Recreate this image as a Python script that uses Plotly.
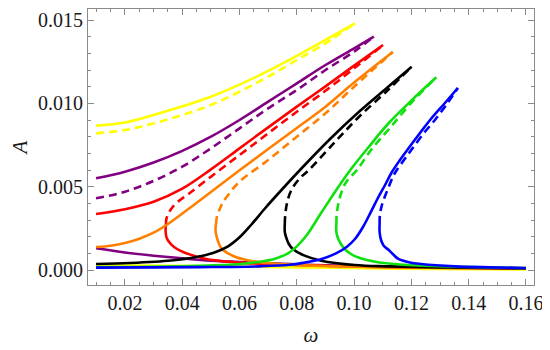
import plotly.graph_objects as go

# ---------------- data (omega, A) ----------------
yellow_upper = [(0.0099, 0.00866), (0.020, 0.00885), (0.030, 0.00930), (0.040, 0.00982), (0.050, 0.01040),
                (0.060, 0.01112), (0.070, 0.01195), (0.080, 0.01285), (0.090, 0.01380), (0.1003, 0.0148)]
yellow_dashed = [(0.0099, 0.0082), (0.020, 0.0084), (0.030, 0.0088), (0.040, 0.0093), (0.050, 0.0099),
                 (0.060, 0.0107), (0.070, 0.0116), (0.080, 0.0126), (0.090, 0.0136), (0.1003, 0.0148)]
yellow_lower = [(0.0099, 0.00028), (0.0462, 0.00024), (0.0811, 0.00016), (0.116, 0.00008), (0.160, 0.00003)]

purple_upper = [(0.0099, 0.0055), (0.020, 0.0059), (0.030, 0.00645), (0.040, 0.00715), (0.050, 0.0080),
                (0.060, 0.0090), (0.070, 0.0101), (0.080, 0.0112), (0.090, 0.0123), (0.100, 0.0133), (0.1069, 0.0140)]
purple_dashed = [(0.0099, 0.0043), (0.020, 0.0047), (0.030, 0.00535), (0.040, 0.0062), (0.050, 0.0073),
                 (0.060, 0.0085), (0.070, 0.0097), (0.080, 0.0108), (0.090, 0.0120), (0.100, 0.0131), (0.1069, 0.0140)]
purple_lower = [(0.0099, 0.0013), (0.020, 0.00105), (0.030, 0.00086), (0.040, 0.0007), (0.050, 0.00056),
                (0.060, 0.00047), (0.080, 0.00034), (0.100, 0.00024), (0.130, 0.00015), (0.160, 0.0001)]

red_upper = [(0.0099, 0.00336), (0.020, 0.00365), (0.030, 0.00410), (0.040, 0.00488), (0.050, 0.00604),
             (0.060, 0.00730), (0.070, 0.00856), (0.080, 0.00980), (0.090, 0.01102), (0.100, 0.01226), (0.1101, 0.0135)]
red_dashed = [(0.0343, 0.00276), (0.0345, 0.0031), (0.0352, 0.0034), (0.0365, 0.00375), (0.0385, 0.0041),
              (0.0423, 0.00458), (0.050, 0.0056), (0.060, 0.0069), (0.070, 0.0082), (0.080, 0.0095),
              (0.090, 0.01075), (0.100, 0.0121), (0.1101, 0.0135)]
red_lower = [(0.0343, 0.00276), (0.0342, 0.00228), (0.0346, 0.00190), (0.0361, 0.00154), (0.0382, 0.00126),
             (0.0409, 0.00104), (0.0479, 0.00068), (0.0584, 0.00046), (0.0741, 0.00033), (0.0985, 0.00021),
             (0.1334, 0.00012), (0.160, 0.00009)]

orange_upper = [(0.0099, 0.00138), (0.015, 0.00146), (0.020, 0.00162), (0.025, 0.00188), (0.030, 0.00224),
                (0.035, 0.00276), (0.042, 0.00364), (0.050, 0.00468), (0.060, 0.00598), (0.070, 0.00726),
                (0.080, 0.00852), (0.090, 0.00980), (0.100, 0.01125), (0.1135, 0.01308)]
orange_dashed = [(0.0518, 0.00276), (0.0520, 0.0031), (0.0527, 0.0035), (0.0540, 0.0040), (0.0560, 0.0045),
                 (0.060, 0.0053), (0.070, 0.0066), (0.080, 0.0080), (0.090, 0.0094), (0.100, 0.0110), (0.1135, 0.01308)]
orange_lower = [(0.0518, 0.00276), (0.0516, 0.0024), (0.0520, 0.0020), (0.0537, 0.0013), (0.0578, 0.00084),
                (0.0636, 0.00056), (0.0718, 0.00038), (0.090, 0.00024), (0.120, 0.00015), (0.160, 0.0001)]

black_upper = [(0.0099, 0.00036), (0.0217, 0.00042), (0.0361, 0.00057), (0.0450, 0.00078), (0.0510, 0.00104),
               (0.0560, 0.00142), (0.0600, 0.00196), (0.0640, 0.00270), (0.0690, 0.00372), (0.0740, 0.00468),
               (0.0811, 0.0060), (0.0916, 0.00786), (0.1020, 0.00954), (0.1118, 0.01098), (0.1201, 0.0122)]
black_dashed = [(0.0758, 0.00276), (0.0759, 0.00318), (0.0765, 0.00396), (0.0781, 0.0048), (0.0811, 0.00552),
                (0.0842, 0.0060), (0.0933, 0.00768), (0.1020, 0.00924), (0.1118, 0.0108), (0.1201, 0.0122)]
black_lower = [(0.0758, 0.00276), (0.0758, 0.00228), (0.0763, 0.00194), (0.0772, 0.00156), (0.0786, 0.00126),
               (0.0827, 0.00086), (0.0885, 0.00056), (0.1002, 0.0003), (0.1118, 0.00022), (0.1334, 0.00015),
               (0.160, 0.00009)]

green_upper = [(0.0099, 0.00018), (0.0287, 0.00019), (0.0462, 0.00025), (0.0601, 0.00036), (0.0671, 0.00050),
               (0.0724, 0.00068), (0.0769, 0.00100), (0.0800, 0.00142), (0.0835, 0.0021), (0.0884, 0.0034),
               (0.0943, 0.00494), (0.0992, 0.00612), (0.1048, 0.00732), (0.1118, 0.00876), (0.1202, 0.0102),
               (0.1287, 0.01156)]
green_dashed = [(0.0938, 0.00276), (0.0939, 0.0033), (0.0944, 0.0039), (0.0955, 0.00462), (0.0973, 0.00530),
                (0.1010, 0.0060), (0.1059, 0.0072), (0.1125, 0.00852), (0.1202, 0.01008), (0.1287, 0.01156)]
green_lower = [(0.0938, 0.00276), (0.0938, 0.00228), (0.0943, 0.00194), (0.0954, 0.00156), (0.0967, 0.00126),
               (0.0989, 0.00096), (0.1013, 0.00076), (0.1083, 0.00046), (0.1160, 0.00033), (0.1334, 0.00021),
               (0.160, 0.00012)]

blue_upper = [(0.0099, 0.00014), (0.0462, 0.00017), (0.0671, 0.00022), (0.0776, 0.00031), (0.0828, 0.00045),
              (0.0884, 0.00065), (0.0935, 0.00098), (0.0975, 0.00140), (0.1003, 0.00186), (0.1031, 0.00258),
              (0.1059, 0.0035), (0.1083, 0.00432), (0.1108, 0.0051), (0.1132, 0.00588), (0.1160, 0.0066),
              (0.1188, 0.00726), (0.1230, 0.00822), (0.1268, 0.00906), (0.1317, 0.01002), (0.1362, 0.01092)]
blue_dashed = [(0.1089, 0.00276), (0.1090, 0.0033), (0.1097, 0.0039), (0.1108, 0.00444), (0.1122, 0.00504),
               (0.1135, 0.00558), (0.1149, 0.0060), (0.1174, 0.0066), (0.1202, 0.00726), (0.1244, 0.00822),
               (0.1282, 0.0090), (0.1324, 0.00996), (0.1362, 0.01092)]
blue_lower = [(0.1089, 0.00276), (0.1089, 0.00228), (0.1094, 0.0018), (0.1104, 0.00144), (0.1118, 0.00124),
              (0.1135, 0.00096), (0.1153, 0.00068), (0.1195, 0.00045), (0.1234, 0.00036), (0.1351, 0.00022),
              (0.1474, 0.00016), (0.160, 0.00012)]

x_ticks = [0.02, 0.04, 0.06, 0.08, 0.10, 0.12, 0.14, 0.16]
x_labels = ["0.02", "0.04", "0.06", "0.08", "0.10", "0.12", "0.14", "0.16"]
y_ticks = [0.0, 0.005, 0.010, 0.015]
y_labels = ["0.000", "0.005", "0.010", "0.015"]

series = [
    ("#FFFF00", yellow_upper, yellow_dashed, yellow_lower),
    ("#800080", purple_upper, purple_dashed, purple_lower),
    ("#FF0000", red_upper, red_dashed, red_lower),
    ("#FF8000", orange_upper, orange_dashed, orange_lower),
    ("#000000", black_upper, black_dashed, black_lower),
    ("#10E010", green_upper, green_dashed, green_lower),
    ("#0000FF", blue_upper, blue_dashed, blue_lower),
]

fig = go.Figure()
for color, up, da, lo in series:
    for pts, dash in ((lo, "solid"), (up, "solid"), (da, "8px,5px")):
        fig.add_trace(go.Scatter(
            x=[p[0] for p in pts], y=[p[1] for p in pts], mode="lines",
            line=dict(color=color, width=2.6, dash=dash, shape="spline", smoothing=1.0),
            showlegend=False, hoverinfo="skip"))

serif = "Liberation Serif, Times New Roman, Times, serif"
axis_common = dict(
    showline=True, linecolor="#8a8a8a", linewidth=1, mirror="allticks",
    ticks="inside", ticklen=6, tickcolor="#8a8a8a", tickwidth=1,
    showgrid=False, zeroline=False,
    tickfont=dict(family=serif, size=20, color="#1a1a1a"),
)

# the page body adds an 8px margin, so the figure is sized/margined to land the frame
# at the same window pixels as the reference
fig.update_layout(
    width=542, height=342,
    margin=dict(l=80, r=16, t=1, b=65),
    paper_bgcolor="white", plot_bgcolor="white",
    xaxis=dict(range=[0.00709, 0.1628], tickvals=x_ticks, ticktext=x_labels,
               minor=dict(ticks="inside", ticklen=3, dtick=0.005, tick0=0.0, tickcolor="#8a8a8a"),
               title=dict(text="<i>ω</i>", font=dict(family=serif, size=21, color="#1a1a1a"), standoff=14),
               **axis_common),
    yaxis=dict(range=[-0.0009, 0.01566], tickvals=y_ticks, ticktext=y_labels,
               minor=dict(ticks="inside", ticklen=3, dtick=0.001, tick0=0.0, tickcolor="#8a8a8a"),
               title=dict(text="<i>A</i>", font=dict(family=serif, size=21, color="#1a1a1a"), standoff=12),
               **axis_common),
)

fig.write_html("out.html")
